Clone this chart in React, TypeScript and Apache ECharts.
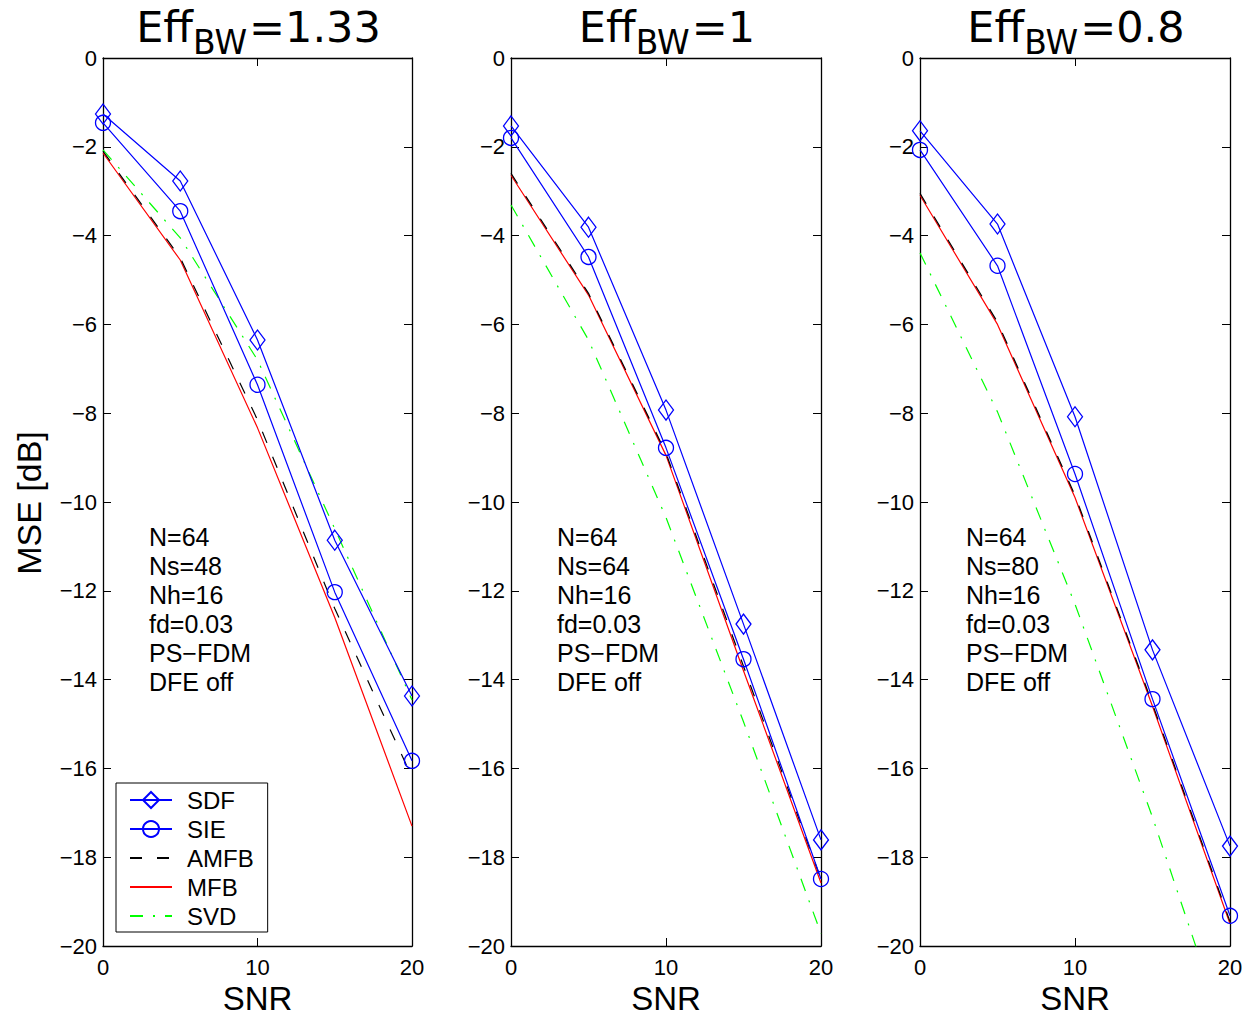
import React, { useEffect, useRef } from "react";
import * as echarts from "echarts";

// ---- data ----
const snr = [0, 5, 10, 15, 20];
const effBW = ["1.33", "1", "0.8"];
const nsValues = ["48", "64", "80"];
const seriesNames = ["SDF", "SIE", "AMFB", "MFB", "SVD"];
const lineOnlyNames = ["AMFB", "MFB", "SVD"];
const yTicks = { min: -20, max: 0, interval: 2 };
const xTicks = { min: 0, max: 20, interval: 10 };

// Eff_BW = 1.33
const sdfA = [-1.26, -2.77, -6.35, -10.86, -14.37];
const sieA = [-1.46, -3.45, -7.36, -12.03, -15.83];
const amfbA = [-2.1, -4.5, -8.15, -12.4, -16.2];
const mfbA = [-2.14, -4.55, -8.33, -12.6, -17.3];
const svdA = [-2.07, -4.05, -6.8, -10.6, -14.46];

// Eff_BW = 1
const sdfB = [-1.53, -3.81, -7.93, -12.75, -17.61];
const sieB = [-1.8, -4.48, -8.78, -13.54, -18.49];
const amfbB = [-2.6, -5.3, -8.9, -13.7, -18.5];
const mfbB = [-2.64, -5.34, -8.95, -13.8, -18.58];
const svdB = [-3.31, -6.35, -10.35, -14.95, -19.72];

// Eff_BW = 0.8
const sdfC = [-1.64, -3.74, -8.08, -13.33, -17.75];
const sieC = [-2.07, -4.68, -9.37, -14.44, -19.32];
const amfbC = [-3.05, -5.95, -9.85, -14.55, -19.45];
const mfbC = [-3.09, -6.0, -9.9, -14.6, -19.5];
const svdC = [-4.39, -7.97, -12.3, -17.1, -22.3];

const panelData = [
  { sdf: sdfA, sie: sieA, amfb: amfbA, mfb: mfbA, svd: svdA },
  { sdf: sdfB, sie: sieB, amfb: amfbB, mfb: mfbB, svd: svdB },
  { sdf: sdfC, sie: sieC, amfb: amfbC, mfb: mfbC, svd: svdC },
];

// ---- layout / style ----
const gridLefts = [103, 511, 920];
const gridWidths = [309, 310, 310];
const gridTop = 58;
const gridHeight = 888;
const SANS = "Liberation Sans, Arial, Helvetica, sans-serif";
const TITLE_FONT = "DejaVu Sans";
const BLUE = "#0000ff";
const RED = "#ff0000";
const GREEN = "#00ff00";
const BLACK = "#000000";

function measure(text: string, size: number, family: string) {
  try {
    const ctx = document.createElement("canvas").getContext("2d")!;
    ctx.font = `${size}px "${family}"`;
    return ctx.measureText(text).width;
  } catch (e) {
    return text.length * size * 0.6;
  }
}

const fmtY = (v: number) => (v < 0 ? "\u2212" + Math.abs(v) : String(v));

export default function App() {
  const ref = useRef<HTMLDivElement>(null);
  useEffect(() => {
    const chart = echarts.init(ref.current!, null, { renderer: "svg", width: 1254, height: 1017 });

    const grids: any[] = [];
    const xAxes: any[] = [];
    const yAxes: any[] = [];
    const series: any[] = [];
    const graphics: any[] = [];

    const tick = { show: true, inside: true, length: 8, lineStyle: { color: BLACK, width: 1 } };
    const axLine = { show: true, onZero: false, lineStyle: { color: BLACK, width: 1.3 } };

    panelData.forEach((p, i) => {
      grids.push({ left: gridLefts[i], top: gridTop, width: gridWidths[i], height: gridHeight, containLabel: false });
      const xi = xAxes.length;
      xAxes.push({
        type: "value", gridIndex: i, position: "bottom", ...xTicks,
        axisLine: axLine, axisTick: tick, splitLine: { show: false },
        axisLabel: { color: BLACK, fontSize: 22, fontFamily: SANS, margin: 10 },
      });
      xAxes.push({
        type: "value", gridIndex: i, position: "top", ...xTicks,
        axisLine: axLine, axisTick: tick, splitLine: { show: false }, axisLabel: { show: false },
      });
      const yi = yAxes.length;
      yAxes.push({
        type: "value", gridIndex: i, position: "left", ...yTicks,
        axisLine: axLine, axisTick: tick, splitLine: { show: false },
        axisLabel: { color: BLACK, fontSize: 22, fontFamily: SANS, margin: 6, formatter: fmtY },
      });
      yAxes.push({
        type: "value", gridIndex: i, position: "right", ...yTicks,
        axisLine: axLine, axisTick: tick, splitLine: { show: false }, axisLabel: { show: false },
      });

      const pts = (arr: number[]) => snr.map((x, k) => [x, arr[k]]);
      const base = { type: "line", xAxisIndex: xi, yAxisIndex: yi, clip: true, z: 3 };
      series.push({
        ...base, name: "SVD", data: pts(p.svd), showSymbol: false, symbol: "none",
        lineStyle: { color: GREEN, width: 1.2, type: [13, 10, 2, 10] }, itemStyle: { color: GREEN },
      });
      series.push({
        ...base, name: "MFB", data: pts(p.mfb), showSymbol: false, symbol: "none",
        lineStyle: { color: RED, width: 1.2, type: "solid" }, itemStyle: { color: RED },
      });
      series.push({
        ...base, name: "AMFB", data: pts(p.amfb), showSymbol: false, symbol: "none",
        lineStyle: { color: BLACK, width: 1.2, type: [12, 15] }, itemStyle: { color: BLACK },
      });
      series.push({
        ...base, name: "SIE", data: pts(p.sie), symbol: "circle", symbolSize: 15,
        lineStyle: { color: BLUE, width: 1.2 },
        itemStyle: { color: "rgba(255,255,255,0)", borderColor: BLUE, borderWidth: 1.3 },
      });
      series.push({
        ...base, name: "SDF", data: pts(p.sdf), symbol: "diamond", symbolSize: [15, 20],
        lineStyle: { color: BLUE, width: 1.2 },
        itemStyle: { color: "rgba(255,255,255,0)", borderColor: BLUE, borderWidth: 1.3 },
      });

      const cx = gridLefts[i] + gridWidths[i] / 2;
      // Title Eff_BW = value
      const mainSize = 43;
      const subSize = 33;
      const t1 = "Eff";
      const t2 = "BW";
      const t3 = "=" + effBW[i];
      const w1 = measure(t1, mainSize, TITLE_FONT);
      const w2 = measure(t2, subSize, TITLE_FONT);
      const w3 = measure(t3, mainSize, TITLE_FONT);
      const x0 = cx - (w1 + w2 + w3) / 2;
      graphics.push({ type: "text", x: x0, y: 27, style: { text: t1, fontSize: mainSize, fontFamily: TITLE_FONT, fill: BLACK, align: "left", verticalAlign: "middle" } });
      graphics.push({ type: "text", x: x0 + w1, y: 42, style: { text: t2, fontSize: subSize, fontFamily: TITLE_FONT, fill: BLACK, align: "left", verticalAlign: "middle" } });
      graphics.push({ type: "text", x: x0 + w1 + w2 + 2, y: 27, style: { text: t3, fontSize: mainSize, fontFamily: TITLE_FONT, fill: BLACK, align: "left", verticalAlign: "middle" } });

      // SNR label
      graphics.push({ type: "text", x: cx, y: 998, style: { text: "SNR", fontSize: 33, fontFamily: SANS, fill: BLACK, align: "center", verticalAlign: "middle" } });

      // Annotation
      const lines = ["N=64", "Ns=" + nsValues[i], "Nh=16", "fd=0.03", "PS\u2212FDM", "DFE off"];
      graphics.push({
        type: "text", x: gridLefts[i] + 46, y: 522,
        style: { text: lines.join("\n"), fontSize: 25, lineHeight: 29, fontFamily: SANS, fill: BLACK, align: "left", verticalAlign: "top" },
      });
    });

    graphics.push({
      type: "text", x: 29, y: 503, rotation: Math.PI / 2,
      style: { text: "MSE [dB]", fontSize: 34, fontFamily: SANS, fill: BLACK, align: "center", verticalAlign: "middle" },
    });

    const legendData = seriesNames.map((n) =>
      lineOnlyNames.includes(n)
        ? { name: n, itemStyle: { color: "rgba(0,0,0,0)", borderWidth: 0, opacity: 0 } }
        : { name: n }
    );

    chart.setOption({
      animation: false,
      backgroundColor: "#ffffff",
      grid: grids,
      xAxis: xAxes,
      yAxis: yAxes,
      series,
      graphic: graphics,
      legend: {
        data: legendData,
        orient: "vertical",
        left: 116,
        top: 783,
        padding: [5, 14, 4, 13],
        itemWidth: 42,
        itemHeight: 20,
        itemGap: 5,
        selectedMode: false,
        borderColor: BLACK,
        borderWidth: 1,
        backgroundColor: "#ffffff",
        textStyle: { color: BLACK, fontSize: 24, fontFamily: SANS, padding: [0, 0, 0, 10] },
        z: 10,
      },
    });
    return () => chart.dispose();
  }, []);
  return <div ref={ref} style={{ position: "fixed", left: 0, top: 0, width: 1254, height: 1017, background: "#fff" }} />;
}
